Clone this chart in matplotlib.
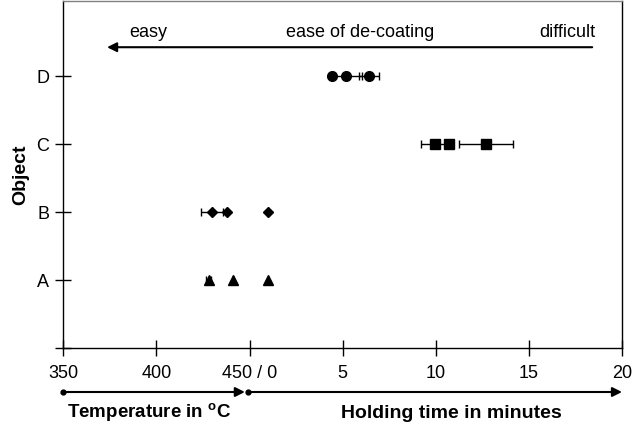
import matplotlib
matplotlib.use("Agg")
from matplotlib import pyplot as plt
from matplotlib import transforms

plt.rcParams['font.family'] = ['Liberation Sans', 'DejaVu Sans']
plt.rcParams['mathtext.fontset'] = 'custom'
plt.rcParams['mathtext.rm'] = 'Liberation Sans'
plt.rcParams['mathtext.bf'] = 'Liberation Sans:bold'

# objects on the y axis
objects = ['A', 'B', 'C', 'D']

# de-coating temperatures (deg C) and holding times (min) per object
a_temp = [428, 441]
a_temp_err = [1.5, 0]
a_time = [1.0]
b_temp = [430, 438]
b_temp_err = [5.9, 0]
b_time = [1.0]
c_time = [9.96, 10.72, 12.7]
c_time_err = [0.77, 0, 1.44]
d_time = [4.41, 5.18, 6.42]
d_time_err = [0, 0.85, 0.53]

tick_labels = ['350', '400', '450 / 0', '5', '10', '15', '20']


# combined x scale: 350-450 degC on the left, 0-20 min on the right
def temp_x(t):
    return [(v - 350) / 50.0 for v in t]


def temp_dx(e):
    return [v / 50.0 for v in e]


def time_x(t):
    return [2 + v / 5.0 for v in t]


def time_dx(e):
    return [v / 5.0 for v in e]


fig = plt.figure(figsize=(6.39, 4.24), dpi=100)
ax = fig.add_axes([63.3 / 639, 1 - 348.3 / 424, (622 - 63.3) / 639, 347.3 / 424])

eb = dict(fmt='none', ecolor='black', elinewidth=1, capsize=3.2, capthick=1, zorder=2)

# A - triangles
ax.errorbar(temp_x(a_temp), [1] * len(a_temp), xerr=temp_dx(a_temp_err), **eb)
ax.plot(temp_x(a_temp) + time_x(a_time), [1] * (len(a_temp) + len(a_time)),
        ls='none', marker='^', ms=7.5, color='black', zorder=3)
# B - diamonds
ax.errorbar(temp_x(b_temp), [2] * len(b_temp), xerr=temp_dx(b_temp_err), **eb)
ax.plot(temp_x(b_temp) + time_x(b_time), [2] * (len(b_temp) + len(b_time)),
        ls='none', marker='D', ms=5.2, color='black', zorder=3)
# C - squares
ax.errorbar(time_x(c_time), [3] * len(c_time), xerr=time_dx(c_time_err), **eb)
ax.plot(time_x(c_time), [3] * len(c_time), ls='none', marker='s', ms=6.8,
        color='black', zorder=3)
# D - circles
ax.errorbar(time_x(d_time), [4] * len(d_time), xerr=time_dx(d_time_err), **eb)
ax.plot(time_x(d_time), [4] * len(d_time), ls='none', marker='o', ms=7,
        color='black', zorder=3)

ax.set_xlim(0, 6)
ax.set_ylim(0, 5.11)
ax.set_xticks(range(len(tick_labels)))
ax.set_xticklabels(tick_labels)
ax.set_yticks(range(0, 5))
ax.set_yticklabels([''] + objects)
ax.tick_params(axis='both', direction='inout', length=12, width=1, labelsize=13)
ax.tick_params(axis='x', pad=6)
ax.tick_params(axis='y', pad=4)

for side in ['left', 'right', 'bottom']:
    ax.spines[side].set_color('black')
    ax.spines[side].set_linewidth(1)
ax.spines['top'].set_color('#808080')
ax.spines['top'].set_linewidth(1)

ax.set_ylabel('Object', fontsize=14, fontweight='bold', labelpad=5)

# ease of de-coating arrow
ax.annotate('', xy=(0.47, 4.43), xytext=(5.68, 4.43),
            arrowprops=dict(arrowstyle='-|>', color='black', lw=1.5,
                            mutation_scale=14, shrinkA=0, shrinkB=0))
ax.text(0.91, 4.65, 'easy', ha='center', va='center', fontsize=13)
ax.text(3.19, 4.65, 'ease of de-coating', ha='center', va='center', fontsize=13)
ax.text(5.71, 4.65, 'difficult', ha='right', va='center', fontsize=13)

# scale arrows below the x axis
trans = transforms.blended_transform_factory(ax.transData, ax.transAxes)
y_arr = (348.3 - 392) / 347.3
y_lab = (348.3 - 413) / 347.3
for x0, x1 in [(0, 1.95), (1.985, 6)]:
    ax.annotate('', xy=(x1, y_arr), xytext=(x0, y_arr), xycoords=trans, textcoords=trans,
                annotation_clip=False,
                arrowprops=dict(arrowstyle='-|>', color='black', lw=1.5,
                                mutation_scale=14, shrinkA=0, shrinkB=0))
    ax.plot([x0], [y_arr], marker='o', ms=3.5, color='black', transform=trans, clip_on=False)

ax.text(0.04, y_lab, 'Temperature in $^{\\mathbf{o}}$C', transform=trans, ha='left',
        va='center', fontsize=13.5, fontweight='bold')
ax.text(4.17, y_lab, 'Holding time in minutes', transform=trans, ha='center',
        va='center', fontsize=14, fontweight='bold')

fig.savefig('out.png', dpi=100)
